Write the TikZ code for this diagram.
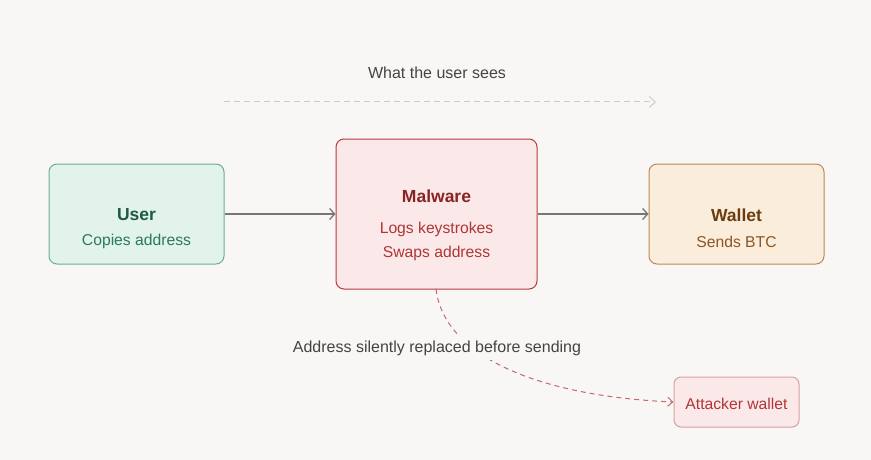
\documentclass[tikz,border=0pt]{standalone}
\usepackage{fontspec}
\setmainfont{Liberation Sans}
\usetikzlibrary{arrows.meta}
\definecolor{bg}{HTML}{F8F7F5}
\definecolor{userfill}{HTML}{E2F3EC}
\definecolor{userdraw}{HTML}{6AAE92}
\definecolor{usertitle}{HTML}{1E5A45}
\definecolor{usersub}{HTML}{2A7A5C}
\definecolor{malfill}{HTML}{FBE9E9}
\definecolor{maldraw}{HTML}{B73B3B}
\definecolor{maltitle}{HTML}{8A2323}
\definecolor{malsub}{HTML}{B03535}
\definecolor{walfill}{HTML}{FAEDDC}
\definecolor{waldraw}{HTML}{B98A57}
\definecolor{waltitle}{HTML}{6A3D10}
\definecolor{walsub}{HTML}{8E5620}
\definecolor{attdraw}{HTML}{D9A0A0}
\definecolor{arrowgray}{HTML}{777777}
\definecolor{labelgray}{HTML}{444444}
\definecolor{dashgray}{HTML}{CCCCCC}
\definecolor{reddash}{HTML}{C46A6A}
\tikzset{
  box/.style={rectangle, rounded corners=8pt, line width=1pt, inner sep=0pt},
  title/.style={font=\fontsize{17.5}{20}\selectfont\bfseries, inner sep=0pt, anchor=center},
  sub/.style={font=\fontsize{15.7}{18}\selectfont, inner sep=0pt, anchor=center},
  lbl/.style={font=\fontsize{16}{18}\selectfont, text=labelgray, inner sep=0pt},
  flow/.style={draw=arrowgray, line width=1.5pt, -{Straight Barb[length=5pt,width=11pt,line width=1.3pt]}},
}
\begin{document}
\begin{tikzpicture}[x=1pt,y=-1pt]
\fill[bg] (0,0) rectangle (871,460);
\useasboundingbox (0,0) rectangle (871,460);

% top
\node[lbl] (seen) at (437,73) {What the user sees};
\coordinate (ts) at (224,102);
\coordinate (te) at (656,102);
\draw[dashgray, line width=1pt, dash pattern=on 6pt off 4pt, -{Straight Barb[length=6pt,width=11pt,line width=1pt]}] (ts) -- (te);

% boxes
\node[box, fill=userfill, draw=userdraw, minimum width=175pt, minimum height=100pt] (user) at (136.5,214) {};
\node[title, text=usertitle] (usert) at (136.5,215) {User};
\node[sub, text=usersub] (users) at (136.5,241.5) {Copies address};

\node[box, fill=malfill, draw=maldraw, minimum width=201pt, minimum height=150pt] (mal) at (436.5,214) {};
\node[title, text=maltitle] (malt) at (436.5,196) {Malware};
\node[sub, text=malsub] (mals1) at (436.5,229.5) {Logs keystrokes};
\node[sub, text=malsub] (mals2) at (436.5,253.5) {Swaps address};

\node[box, fill=walfill, draw=waldraw, minimum width=175pt, minimum height=100pt] (wal) at (736.5,214) {};
\node[title, text=waltitle] (walt) at (736.5,215) {Wallet};
\node[sub, text=walsub] (wals) at (736.5,241.5) {Sends BTC};

\node[box, rounded corners=7pt, fill=malfill, draw=attdraw, minimum width=125pt, minimum height=50pt] (att) at (736.5,402) {};
\node[sub, text=malsub] (attt) at (736.5,404) {Attacker wallet};

% flows
\draw[flow] (user.east) -- (mal.west);
\draw[flow] (mal.east) -- (wal.west);

% dashed curve
\coordinate (cs) at (436,289);
\draw[reddash, line width=1pt, dash pattern=on 5pt off 4pt, -{Straight Barb[length=5pt,width=9pt,line width=1pt]}]
  (cs) .. controls (444,355) and (535,396) .. (att.west);
\node[lbl, fill=bg, inner xsep=3pt, inner ysep=5pt] (rep) at (437,348) {Address silently replaced before sending};
\end{tikzpicture}
\end{document}
